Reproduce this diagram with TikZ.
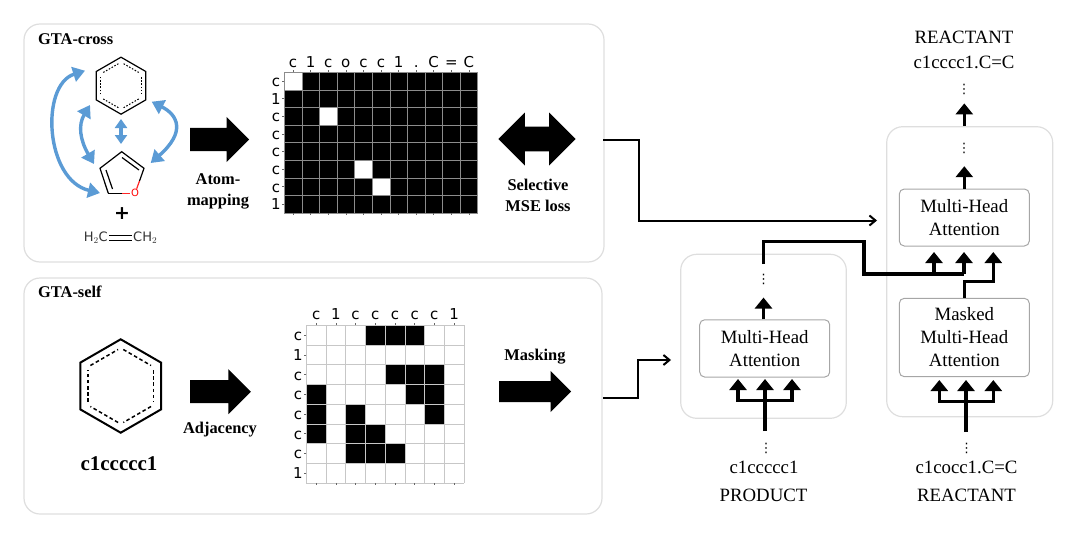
\documentclass[tikz,border=0pt]{standalone}
\usepackage{fontspec}
\setmainfont{Liberation Serif}
\newfontfamily\plotfont{DejaVu Sans}
\usetikzlibrary{arrows.meta}
\usetikzlibrary{calc}
\usetikzlibrary{shapes.geometric,shapes.arrows}
\definecolor{bondblue}{HTML}{5B9BD5}
\tikzset{
    panel/.style={rectangle,draw=black!13,line width=1.2pt,rounded corners=16pt,inner sep=0pt},
    attnbox/.style={rectangle,draw=black!35,line width=1pt,rounded corners=5pt,inner sep=0pt,
        minimum width=130pt,align=center,font=\fontsize{18.8}{23}\selectfont},
    plainlabel/.style={font=\fontsize{18.8}{23}\selectfont,align=center,inner sep=0pt},
    boldlabel/.style={font=\fontsize{16.4}{21}\selectfont\bfseries,align=center,inner sep=0pt},
    ticklabel/.style={font=\fontsize{15}{15}\selectfont\plotfont,inner sep=0pt,text height=11pt,text depth=0pt},
    bigarrow/.style={single arrow,fill=black,inner xsep=0pt,anchor=tail},
    flow/.style={line width=3.2pt,-{Triangle[width=17pt,length=11pt]}},
    flowline/.style={line width=3.2pt},
    link/.style={line width=2pt},
    bond/.style={line width=3.4pt,bondblue,{Triangle[width=15pt,length=12pt]}-{Triangle[width=15pt,length=12pt]}},
    vdotsnode/.style={inner sep=0pt,font=\fontsize{13}{13}\selectfont\plotfont},
}
\begin{document}
\begin{tikzpicture}[x=1pt,y=-1pt]
        \useasboundingbox (0,0) rectangle (1086,551);

        % background panels
        \node[panel,minimum width=580pt,minimum height=238pt] (crosspanel) at (314,143) {};
        \node[panel,minimum width=578pt,minimum height=236pt] (selfpanel) at (313,396) {};
        \node[panel,minimum width=165.6pt,minimum height=164pt] (encpanel) at (763.5,336.3) {};
        \node[panel,minimum width=166pt,minimum height=290pt] (decpanel) at (969.7,271.7) {};
        \node[boldlabel,anchor=west] (crosstitle) at (38,39) {GTA-cross};
        \node[boldlabel,anchor=west] (selftitle) at (38,292) {GTA-self};

        % benzene, top panel
        \coordinate (ringtop) at (121,85.7);
        \node[regular polygon,regular polygon sides=6,shape border rotate=30,draw,line width=1.2pt,
            inner sep=0pt,minimum size=57pt] (benzene) at (ringtop) {};
        \foreach \a in {30,90,...,330}
            \draw[line width=1pt,dash pattern=on 1.6pt off 1.6pt,shorten <=3pt,shorten >=3pt]
                ($(ringtop)+(\a:23.5)$) -- ($(ringtop)+(\a+60:23.5)$);

        % furan
        \coordinate (fa) at (121.7,151.7);
        \coordinate (fb) at (144,168.3);
        \coordinate (fc) at (108.3,193.3);
        \coordinate (fd) at (100,168.3);
        \node[text=red,font=\fontsize{10}{10}\selectfont\plotfont,inner sep=0.6pt] (oxygen) at (135,193.3) {O};
        \draw[line width=1.2pt] (fc) -- (fd) -- (fa) -- (fb) -- (139.5,181);
        \draw[line width=1.2pt] (fc) -- (122,193.3);
        \draw[line width=1.2pt,red!85] (139.5,181) -- (oxygen);
        \draw[line width=1.2pt,red!85] (122,193.3) -- (oxygen);
        \draw[line width=1.2pt] (122,157.5) -- (139,170);
        \draw[line width=1.2pt] (106,170) -- (112.5,189);

        \node[font=\fontsize{19}{19}\selectfont\plotfont\bfseries,inner sep=0pt] (plus) at (122,214) {+};

        % ethylene
        \node[font=\fontsize{13}{13}\selectfont\plotfont,text=black!80,inner sep=1pt,anchor=east] (methyla) at (109,238) {H$_2$C};
        \node[font=\fontsize{13}{13}\selectfont\plotfont,text=black!80,inner sep=1pt,anchor=west] (methylb) at (132,238) {CH$_2$};
        \draw[line width=1.2pt,transform canvas={yshift=2.6pt}] (methyla) -- (methylb);
        \draw[line width=1.2pt,transform canvas={yshift=-2.6pt}] (methyla) -- (methylb);

        % atom links
        \coordinate (outa) at (85,70.7);
        \coordinate (outb) at (100,193);
        \coordinate (lefta) at (90,105);
        \coordinate (leftb) at (94,164);
        \coordinate (mida) at (121,119);
        \coordinate (midb) at (121,144);
        \coordinate (righta) at (151.7,101.7);
        \coordinate (rightb) at (150.7,163);
        \draw[bond] (outa) .. controls (40,85) and (45,180) .. (outb);
        \draw[bond] (lefta) .. controls (78,125) and (80,140) .. (leftb);
        \draw[line width=3.4pt,bondblue,{Triangle[width=12pt,length=9pt]}-{Triangle[width=12pt,length=9pt]}] (mida) -- (midb);
        \draw[bond] (righta) .. controls (178,115) and (186,132) .. (rightb);

        % big arrows
        \node[bigarrow,inner ysep=11.5pt,minimum height=59pt,single arrow head extend=11pt] (atomarrow) at (190,139.5) {};
        \node[boldlabel] (atomlabel) at (218,191) {Atom-\\mapping};
        \node[double arrow,fill=black,inner xsep=0pt,inner ysep=12.2pt,minimum height=77.4pt,
            double arrow head extend=14.1pt] (mseloss) at (537,139) {};
        \node[boldlabel] (mselabel) at (538,195) {Selective\\MSE loss};
        \node[bigarrow,inner ysep=11.3pt,minimum height=60.7pt,single arrow head extend=11pt] (adjarrow) at (190,391.7) {};
        \node[boldlabel] (adjlabel) at (220,430) {Adjacency};
        \node[bigarrow,inner ysep=10.3pt,minimum height=72pt,single arrow head extend=10.2pt] (maskarrow) at (499,391.5) {};
        \node[boldlabel] (masklabel) at (535,357) {Masking};

        % overlap matrix
        \def\crosscell{17.58}
        \fill (284.3,72.3) rectangle (477.7,213);
        \foreach \c/\r in {0/0,2/2,4/5,5/6}
            \fill[white] ({284.3+\crosscell*\c},{72.3+\crosscell*\r}) rectangle +(\crosscell,\crosscell);
        \foreach \c in {0,...,11}
            \draw[black!45,line width=0.4pt] ({284.3+\crosscell*\c},72.3) -- ({284.3+\crosscell*\c},213);
        \foreach \r in {0,...,8}
            \draw[black!45,line width=0.4pt] (284.3,{72.3+\crosscell*\r}) -- (477.7,{72.3+\crosscell*\r});
        \foreach \lab [count=\i from 0] in {c,1,c,o,c,c,1,.,C,=,C} {
            \node[ticklabel] (crosstop\i) at ({284.3+\crosscell*(\i+.5)},62) {\lab};
            \draw[black!60,line width=0.5pt] ({284.3+\crosscell*(\i+.5)},72.3) -- +(0,-2);
            \draw[black!60,line width=0.5pt] ({284.3+\crosscell*(\i+.5)},213) -- +(0,2);
        }
        \foreach \lab [count=\i from 0] in {c,1,c,c,c,c,c,1} {
            \node[ticklabel] (crossleft\i) at (276,{72.3+\crosscell*(\i+.5)}) {\lab};
            \draw[black!60,line width=0.5pt] (284.3,{72.3+\crosscell*(\i+.5)}) -- +(-2,0);
        }

        % benzene, bottom panel
        \coordinate (ringself) at (120.7,386);
        \node[regular polygon,regular polygon sides=6,shape border rotate=30,draw,line width=2pt,
            inner sep=0pt,minimum size=93.4pt] (selfring) at (ringself) {};
        \foreach \a in {30,90,...,330}
            \draw[line width=1.5pt,dash pattern=on 3.6pt off 2.6pt,shorten <=3pt,shorten >=3pt]
                ($(ringself)+(\a:38)$) -- ($(ringself)+(\a+60:38)$);
        \node[font=\fontsize{21}{21}\selectfont\bfseries,inner sep=0pt] (selfsmiles) at (119,464) {c1ccccc1};

        % adjacency matrix
        \def\selfcell{19.7}
        \foreach \c/\r in {3/0,4/0,5/0,4/2,5/2,6/2,0/3,5/3,6/3,0/4,2/4,6/4,0/5,2/5,3/5,2/6,3/6,4/6}
            \fill ({306.3+\selfcell*\c},{325.3+\selfcell*\r}) rectangle +(\selfcell,\selfcell);
        \foreach \i in {0,...,8} {
            \draw[black!22,line width=0.6pt] ({306.3+\selfcell*\i},325.3) -- ({306.3+\selfcell*\i},482.9);
            \draw[black!22,line width=0.6pt] (306.3,{325.3+\selfcell*\i}) -- (463.9,{325.3+\selfcell*\i});
        }
        \foreach \lab [count=\i from 0] in {c,1,c,c,c,c,c,1} {
            \node[ticklabel] (selftop\i) at ({306.3+\selfcell*(\i+.5)},313.5) {\lab};
            \node[ticklabel] (selfleft\i) at (298,{325.3+\selfcell*(\i+.5)}) {\lab};
            \draw[black!60,line width=0.5pt] ({306.3+\selfcell*(\i+.5)},325.3) -- +(0,-2);
            \draw[black!60,line width=0.5pt] ({306.3+\selfcell*(\i+.5)},482.9) -- +(0,2);
            \draw[black!60,line width=0.5pt] (306.3,{325.3+\selfcell*(\i+.5)}) -- +(-2,0);
        }

        % attention blocks
        \node[attnbox,minimum height=57.3pt] (encattn) at (764.7,348.4) {Multi-Head\\Attention};
        \node[attnbox,minimum height=78.4pt] (maskattn) at (964.3,337.5) {Masked\\Multi-Head\\Attention};
        \node[attnbox,minimum height=57pt] (decattn) at (964.3,217.5) {Multi-Head\\Attention};

        % text outside the blocks
        \node[plainlabel] (toplabel) at (964,37) {REACTANT};
        \node[plainlabel] (topsmiles) at (964,62) {c1cccc1.C=C};
        \node[vdotsnode] (topdots) at (964,89) {⋮};
        \node[vdotsnode] (decdots) at (964,148) {⋮};
        \node[vdotsnode] (encdots) at (763.5,279) {⋮};
        \node[vdotsnode] (prodots) at (766,448) {⋮};
        \node[vdotsnode] (reacdots) at (966.5,448) {⋮};
        \node[plainlabel] (prosmiles) at (764,467) {c1ccccc1};
        \node[plainlabel] (reacsmiles) at (966.5,467) {c1cocc1.C=C};
        \node[plainlabel] (prolabel) at (763.5,495) {PRODUCT};
        \node[plainlabel] (reaclabel) at (966.5,495) {REACTANT};

        % flow into encoder
        \coordinate (encin) at (765,431);
        \coordinate (enctip) at (765,379);
        \coordinate (encleft) at (738,379);
        \coordinate (encright) at (792,379);
        \coordinate (encbar) at (765,400.7);
        \draw[flow] (encin) -- (enctip);
        \draw[flow] (encbar) -| (encleft);
        \draw[flow] (encbar) -| (encright);
        \draw[flow] (encattn.north -| encdots) -- +(0,-21.7);

        % flow into decoder
        \coordinate (decin) at (966,432);
        \coordinate (dectip) at (966,380);
        \coordinate (decleft) at (939.3,380);
        \coordinate (decright) at (993.3,380);
        \coordinate (decbar) at (966,401.7);
        \draw[flow] (decin) -- (dectip);
        \draw[flow] (decbar) -| (decleft);
        \draw[flow] (decbar) -| (decright);

        % encoder output and skip links
        \coordinate (encout) at (763.5,264);
        \coordinate (memjoin) at (964,274);
        \coordinate (memleft) at (934,252);
        \coordinate (memmid) at (964,252);
        \coordinate (memright) at (993.3,252);
        \draw[flowline,line join=miter] (encout) -- (763.5,241.7) -- (864,241.7) -- (864,274) -- (memjoin);
        \draw[flow] (memjoin) -- (memmid);
        \draw[flow] (memleft |- memjoin) -- (memleft);
        \draw[flow] (maskattn.north) -- (964.3,281.7) -| (memright);
        \draw[flow] (decattn.north) -- +(0,-22.3);
        \draw[flow] (decpanel.north -| decattn) -- +(0,-22.7);

        % links from the panels
        \coordinate (crossout) at (603,140);
        \coordinate (crossin) at (877,220.5);
        \coordinate (selfout) at (603,398);
        \coordinate (selfin) at (671,360);
        \draw[link,-{Straight Barb[length=6pt,width=10pt]}] (crossout) -- (639,140) |- (crossin);
        \draw[link,-{Straight Barb[length=6pt,width=10pt]}] (selfout) -- (638,398) |- (selfin);

    \end{tikzpicture}
\end{document}
